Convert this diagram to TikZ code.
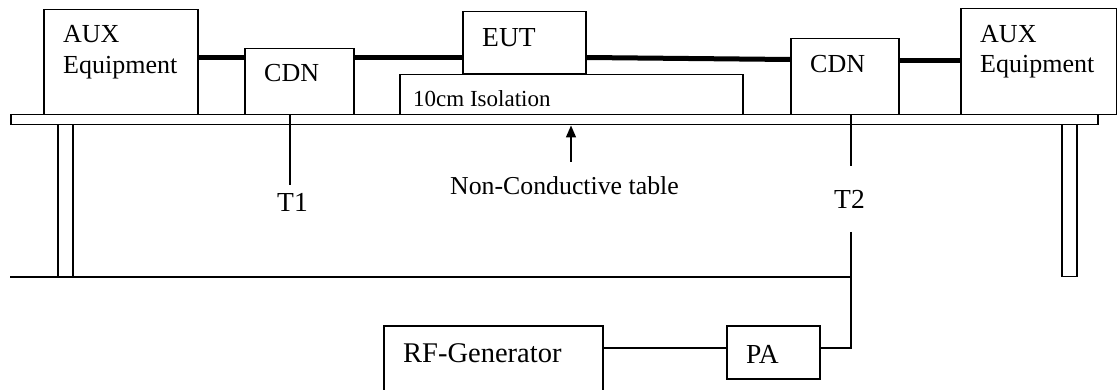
\documentclass[tikz,border=0pt]{standalone}
\usepackage{fontspec}
\setmainfont{Liberation Serif}
\usetikzlibrary{arrows.meta}
\begin{document}
\begin{tikzpicture}[x=1pt,y=-1pt,
  box/.style={draw, line width=1.5pt, inner sep=0pt, anchor=north west},
  lbl/.style={inner sep=0pt, anchor=base west, font=\fontsize{26}{30}\selectfont},
  biglbl/.style={inner sep=0pt, anchor=base west, font=\fontsize{27.5}{30}\selectfont},
  smalllbl/.style={inner sep=0pt, anchor=base west, font=\fontsize{23}{28}\selectfont},
  cable/.style={line width=5pt},
  wire/.style={line width=1.5pt}]
\useasboundingbox (0,0) rectangle (1117,390);
\clip (0,0) rectangle (1117,390);
% boxes
\node[box, minimum width=154pt, minimum height=105pt] (auxL) at (43,9) {};
\node[box, minimum width=109pt, minimum height=66pt] (cdnL) at (244,48) {};
\node[box, minimum width=123pt, minimum height=62pt] (eut) at (462,11) {};
\node[box, minimum width=343pt, minimum height=40pt] (iso) at (399,74) {};
\node[box, minimum width=108pt, minimum height=76pt] (cdnR) at (790,38) {};
\node[box, minimum width=156pt, minimum height=106pt] (auxR) at (960,8) {};
\node[box, minimum width=1087pt, minimum height=10pt] (table) at (10,114) {};
\node[box, minimum width=15pt, minimum height=152pt] (legL) at (57,124) {};
\node[box, minimum width=15pt, minimum height=152pt] (legR) at (1061,124) {};
\node[box, minimum width=219pt, minimum height=80pt] (rfgen) at (383,325) {};
\node[box, minimum width=93pt, minimum height=53pt] (pa) at (726,325) {};
% texts
\node[lbl] (tauxL1) at (63,43) {AUX};
\node[lbl] (tauxL2) at (63,74) {Equipment};
\node[lbl] (tauxR1) at (980,43) {AUX};
\node[lbl] (tauxR2) at (980,73) {Equipment};
\node[lbl] (tcdnL) at (264,82) {CDN};
\node[lbl] (tcdnR) at (810,73) {CDN};
\node[biglbl] (teut) at (482,47) {EUT};
\node[smalllbl] (tiso) at (413,107) {10cm Isolation};
\node[inner sep=0pt, anchor=base west, font=\fontsize{25.8}{30}\selectfont] (ttable) at (450,195) {Non-Conductive table};
\node[biglbl] (tT1) at (277,212) {T1};
\node[biglbl] (tT2) at (834,209) {T2};
\node[inner sep=0pt, anchor=base west, font=\fontsize{28.5}{30}\selectfont] (trf) at (403,362) {RF-Generator};
\node[biglbl] (tpa) at (746,363) {PA};
% cables
\draw[cable] (auxL.north east |- 0,57.5) -- (cdnL.west |- 0,57.5);
\draw[cable] (cdnL.north east |- 0,57.5) -- (eut.west |- 0,57.5);
\draw[cable] (eut.north east |- 0,57.5) -- (cdnR.west |- 0,59.5);
\draw[cable] (cdnR.north east |- 0,60.5) -- (auxR.west |- 0,60.5);
% wires
\coordinate (t1end) at (290,185);
\coordinate (t2end) at (851,166);
\coordinate (t2top) at (851,232);
\coordinate (gnd) at (10,277);
\coordinate (arr) at (571,162);
\draw[wire] (cdnL.south -| t1end) -- (t1end);
\draw[wire] (cdnR.south -| t2end) -- (t2end);
\draw[wire] (gnd) -- (gnd -| t2top);
\draw[wire] (t2top) |- (pa.east |- 0,348);
\draw[wire] (rfgen.east |- 0,348) -- (pa.west |- 0,348);
\draw[wire, -{Triangle[length=12pt,width=10pt]}] (arr) -- (arr |- table.south);
\end{tikzpicture}
\end{document}
